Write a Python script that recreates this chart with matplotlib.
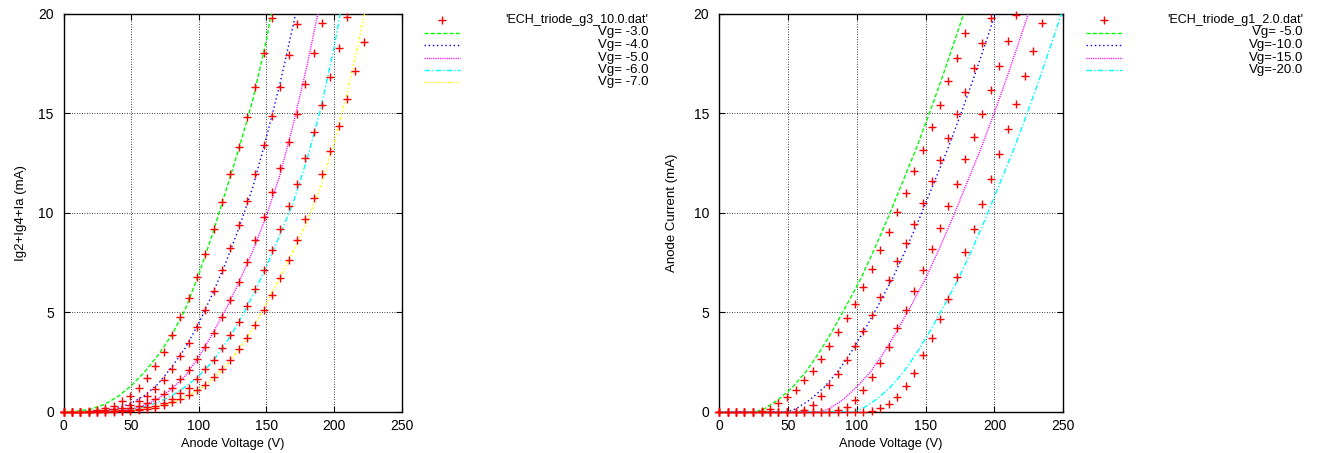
import numpy as np
import matplotlib
matplotlib.use('Agg')
import matplotlib.pyplot as plt
from matplotlib.lines import Line2D

plt.rcParams['font.family'] = ['Liberation Sans', 'DejaVu Sans']
plt.rcParams['font.size'] = 9

# ---- left plot: ECH triode, g3 = 10.0 ----
va_l = [0.0, 6.2, 12.3, 18.5, 24.7, 30.8, 37.0, 43.2, 49.3, 55.5, 61.7, 67.8, 74.0,
        80.2, 86.3, 92.5, 98.7, 104.8, 111.0, 117.2, 123.3, 129.5, 135.7, 141.8,
        148.0, 154.2, 160.3, 166.5, 172.7, 178.8, 185.0, 191.2, 197.3, 203.5,
        209.7, 215.8, 222.0]
ia_m3 = [0.0, 0.0, 0.01, 0.04, 0.09, 0.17, 0.31, 0.52, 0.80, 1.21, 1.68, 2.31, 2.99,
         3.84, 4.75, 5.71, 6.78, 7.93, 9.17, 10.53, 11.93, 13.30, 14.80, 16.33,
         18.03, 19.78]
ia_m4 = [0.0, 0.0, 0.0, 0.01, 0.03, 0.07, 0.13, 0.21, 0.35, 0.54, 0.80, 1.15, 1.61,
         2.17, 2.80, 3.47, 4.28, 5.12, 6.09, 7.13, 8.22, 9.40, 10.62, 11.96, 13.41,
         14.85, 16.33, 17.92, 19.49]
ia_m5 = [0.0, 0.0, 0.0, 0.0, 0.01, 0.03, 0.06, 0.11, 0.19, 0.30, 0.46, 0.62, 0.87,
         1.20, 1.63, 2.12, 2.64, 3.27, 3.98, 4.78, 5.62, 6.54, 7.52, 8.61, 9.78,
         11.03, 12.25, 13.56, 14.97, 16.47, 18.03, 19.57]
ia_m6 = [0.0, 0.0, 0.0, 0.0, 0.0, 0.01, 0.03, 0.05, 0.09, 0.15, 0.22, 0.31, 0.45,
         0.63, 0.93, 1.21, 1.65, 2.13, 2.62, 3.19, 3.84, 4.53, 5.32, 6.16, 7.13,
         8.14, 9.19, 10.32, 11.45, 12.74, 14.06, 15.41, 16.81, 18.27, 19.83]
ia_m7 = [0.0, 0.0, 0.0, 0.0, 0.0, 0.0, 0.01, 0.03, 0.05, 0.09, 0.14, 0.21, 0.33,
         0.47, 0.64, 0.82, 1.08, 1.36, 1.75, 2.13, 2.61, 3.15, 3.72, 4.36, 5.10,
         5.85, 6.71, 7.63, 8.61, 9.70, 10.75, 11.94, 13.13, 14.37, 15.74, 17.14,
         18.57]

# fitted curves
fv_m3 = [0, 10, 20, 30, 40, 50, 60, 70, 80, 90, 100, 110, 120, 130, 140, 150, 153.5]
fi_m3 = [0, 0.03, 0.12, 0.36, 0.75, 1.3, 2.0, 2.85, 3.85, 5.15, 6.9, 8.9, 11.1, 13.3,
         15.7, 18.7, 20]
fv_m4 = [0, 10, 20, 30, 40, 50, 60, 70, 80, 90, 100, 110, 120, 130, 140, 150, 160,
         170, 171.5]
fi_m4 = [0, 0, 0.02, 0.06, 0.18, 0.42, 0.82, 1.4, 2.25, 3.2, 4.45, 5.9, 7.5, 9.3,
         11.3, 13.8, 16.5, 19.5, 20]
fv_m5 = [0, 20, 30, 40, 50, 60, 70, 80, 90, 100, 110, 120, 130, 140, 150, 160, 170,
         180, 188]
fi_m5 = [0, 0, 0.01, 0.04, 0.12, 0.32, 0.65, 1.15, 1.8, 2.75, 3.9, 5.15, 6.55, 8.1,
         9.85, 11.9, 14.5, 17.4, 20]
fv_m6 = [0, 30, 40, 50, 60, 70, 80, 90, 100, 110, 120, 130, 140, 150, 160, 170, 180,
         190, 200, 204.5]
fi_m6 = [0, 0.01, 0.04, 0.11, 0.25, 0.47, 0.8, 1.25, 1.8, 2.5, 3.45, 4.55, 5.85, 7.3,
         8.9, 10.55, 12.7, 15.2, 18.3, 20]
fv_m7 = [0, 40, 50, 60, 70, 80, 90, 100, 110, 120, 130, 140, 150, 160, 170, 180, 190,
         200, 210, 220, 222.5]
fi_m7 = [0, 0.02, 0.06, 0.14, 0.26, 0.45, 0.72, 1.1, 1.62, 2.3, 3.15, 4.2, 5.45, 6.75,
         8.1, 9.55, 11.3, 13.5, 16.1, 19.2, 20]

# ---- right plot: ECH triode, g1 = 2.0 ----
va_r = [0.3, 6.2, 12.4, 18.5, 24.7, 30.9, 37.0, 43.2, 49.4, 55.6, 61.7, 67.9, 74.1,
        80.2, 86.4, 92.6, 98.7, 104.9, 111.1, 117.2, 123.4, 129.6, 135.8, 141.9,
        148.1, 154.3, 160.4, 166.6, 172.8, 178.9, 185.1, 191.3, 197.4, 203.6,
        209.8, 216.0, 222.1, 228.3, 234.5]
ia_a = [0, 0, 0, 0, 0, 0.05, 0.16, 0.42, 0.72, 1.10, 1.58, 2.07, 2.63, 3.30, 3.99,
        4.69, 5.44, 6.28, 7.17, 8.13, 9.05, 10.02, 11.02, 12.08, 13.18, 14.33, 15.42,
        16.63, 17.80, 19.05]
ia_b = [0, 0, 0, 0, 0, 0, 0, 0, 0, 0, 0.10, 0.36, 0.77, 1.32, 1.92, 2.60, 3.28, 4.07,
        4.85, 5.75, 6.64, 7.58, 8.49, 9.44, 10.51, 11.59, 12.66, 13.77, 14.95, 16.09,
        17.30, 18.52, 19.78]
ia_c = [0, 0, 0, 0, 0, 0, 0, 0, 0, 0, 0, 0, 0, 0, 0.08, 0.25, 0.59, 1.07, 1.72, 2.44,
        3.27, 4.19, 5.10, 6.05, 7.13, 8.20, 9.25, 10.34, 11.45, 12.69, 13.79, 14.95,
        16.19, 17.37, 18.62, 19.97]
ia_d = [0, 0, 0, 0, 0, 0, 0, 0, 0, 0, 0, 0, 0, 0, 0, 0, 0, 0, 0.04, 0.17, 0.41, 0.75,
        1.28, 1.96, 2.83, 3.70, 4.67, 5.69, 6.77, 8.01, 9.18, 10.43, 11.68, 12.95,
        14.24, 15.49, 16.87, 18.14, 19.56]

gv_5 = [0, 27, 33, 43, 53, 63, 73, 83, 93, 103, 113, 123, 133, 143, 153, 163, 173, 177.6]
gi_5 = [0, 0, 0.15, 0.6, 1.2, 2.0, 3.0, 4.15, 5.4, 6.7, 8.2, 9.8, 11.5, 13.2, 15.05,
        17.0, 19.05, 20]
gv_10 = [0, 50, 56, 66, 76, 86, 96, 106, 116, 126, 136, 146, 156, 166, 176, 186, 196, 200.6]
gi_10 = [0, 0, 0.15, 0.6, 1.2, 2.0, 3.0, 4.15, 5.4, 6.7, 8.2, 9.8, 11.5, 13.2, 15.05,
         17.0, 19.05, 20]
gv_15 = [0, 74, 80, 90, 100, 110, 120, 130, 140, 150, 160, 170, 180, 190, 200, 210,
         220, 224.6]
gi_15 = [0, 0, 0.15, 0.6, 1.25, 2.0, 3.0, 4.15, 5.4, 6.7, 8.2, 9.8, 11.5, 13.2, 15.05,
         17.0, 19.05, 20]
gv_20 = [0, 98, 104, 114, 124, 134, 144, 154, 164, 174, 184, 194, 204, 214, 224, 234,
         244, 248.6]
gi_20 = [0, 0, 0.15, 0.6, 1.2, 2.0, 3.0, 4.15, 5.4, 6.7, 8.2, 9.8, 11.5, 13.2, 15.05,
         17.0, 19.05, 20]

left_labels = ['Vg= -3.0', 'Vg= -4.0', 'Vg= -5.0', 'Vg= -6.0', 'Vg= -7.0']
right_labels = ['Vg= -5.0', 'Vg=-10.0', 'Vg=-15.0', 'Vg=-20.0']

colors = ['#00ff00', '#0000ff', '#ff00ff', '#00ffff', '#ffff00']
dashes = [(3, 1.5), (1, 2), (0.8, 0.8), (4, 1.5, 1, 1.5), (2, 1.5, 1, 1.5, 1, 1.5)]

W, H = 1323, 453
fig = plt.figure(figsize=(W / 100, H / 100), dpi=100)
axL = fig.add_axes([63.5 / W, 1 - 411.7 / H, 338.2 / W, 397.7 / H])
axR = fig.add_axes([719 / W, 1 - 411.7 / H, 344.3 / W, 397.7 / H])


def style_ax(ax, ylabel, ylx):
    ax.set_xlim(0, 250)
    ax.set_ylim(0, 20)
    ax.set_xticks([0, 50, 100, 150, 200, 250])
    ax.set_yticks([0, 5, 10, 15, 20])
    ax.tick_params(direction='in', length=4, width=0.8, top=True, right=True,
                   labelsize=10)
    ax.tick_params(axis='x', pad=5)
    ax.tick_params(axis='y', pad=7)
    ax.grid(True, color='black', linestyle=(0, (1, 2)), linewidth=0.6)
    for s in ax.spines.values():
        s.set_linewidth(1.0)
    ax.set_xlabel('Anode Voltage (V)', fontsize=9.2)
    ax.set_ylabel(ylabel, fontsize=9.5)
    ax.xaxis.set_label_coords(0.5, -0.066)
    ax.yaxis.set_label_coords(ylx, 0.5)


style_ax(axL, 'Ig2+Ig4+Ia (mA)', -0.108)
style_ax(axR, 'Anode Current (mA)', -0.119)

pts_kw = dict(ls='none', marker='+', color='red', ms=5.5, mew=1.0, clip_on=False, zorder=4)

for ia in [ia_m3, ia_m4, ia_m5, ia_m6, ia_m7]:
    axL.plot(va_l[:len(ia)], ia, **pts_kw)
for k, (fv, fi) in enumerate([(fv_m3, fi_m3), (fv_m4, fi_m4), (fv_m5, fi_m5),
                              (fv_m6, fi_m6), (fv_m7, fi_m7)]):
    axL.plot(fv, fi, color=colors[k], dashes=dashes[k], lw=1.0, zorder=3)

for ia in [ia_a, ia_b, ia_c, ia_d]:
    axR.plot(va_r[:len(ia)], ia, **pts_kw)
for k, (gv, gi) in enumerate([(gv_5, gi_5), (gv_10, gi_10), (gv_15, gi_15), (gv_20, gi_20)]):
    axR.plot(gv, gi, color=colors[k], dashes=dashes[k], lw=1.0, zorder=3)


# gnuplot-style keys: sample on the left, right-aligned text
def key(title, labels, x0, x1, xt, ys):
    xm = (x0 + x1) / 2
    fig.add_artist(Line2D([xm / W], [1 - ys[0] / H], transform=fig.transFigure,
                          ls='none', marker='+', color='red', ms=5.5, mew=1.0))
    fig.text(xt / W, 1 - ys[0] / H, title, ha='right', va='center', fontsize=9)
    for k, lab in enumerate(labels):
        y = 1 - ys[k + 1] / H
        fig.add_artist(Line2D([x0 / W, x1 / W], [y, y], transform=fig.transFigure,
                              color=colors[k], dashes=dashes[k], lw=1.0))
        fig.text(xt / W, y, lab, ha='right', va='center', fontsize=9.5)


key("'ECH_triode_g3_10.0.dat'", left_labels, 424, 460, 648,
    [20, 32.5, 45, 57.5, 70, 82.5])
key("'ECH_triode_g1_2.0.dat'", right_labels, 1086, 1122, 1303,
    [20, 32.5, 45, 57.5, 70])

fig.savefig('out.png', dpi=100)
